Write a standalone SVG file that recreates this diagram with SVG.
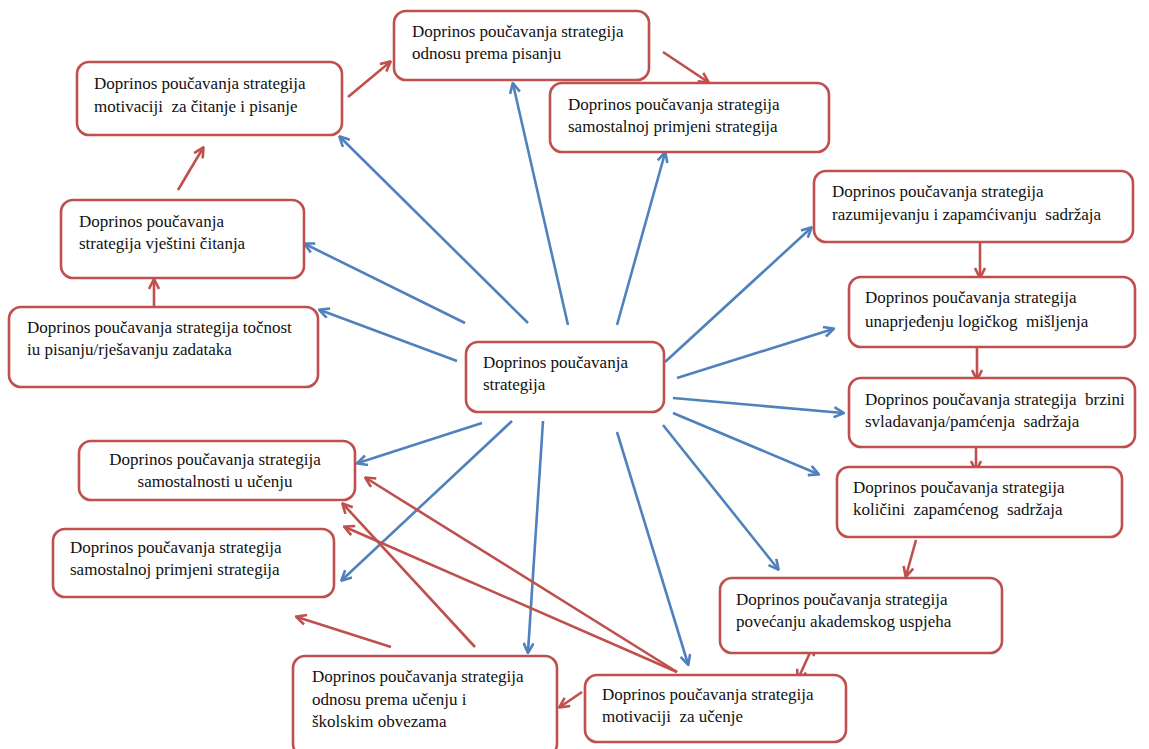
<svg xmlns="http://www.w3.org/2000/svg" width="1149" height="749" viewBox="0 0 1149 749">
<style>
.box{fill:#fff;stroke:#C0504D;stroke-width:2.6}
text{font-family:'Liberation Serif','Times New Roman',serif;font-size:17px;fill:#111}
.b{stroke:#4F81BD;stroke-width:2.6;fill:none;marker-end:url(#ab)}
.r{stroke:#C0504D;stroke-width:2.6;fill:none;marker-end:url(#ar)}
.rr{marker-start:url(#ar2)}
</style>
<defs>
<marker id="ab" viewBox="0 0 12 12" refX="10" refY="6" markerWidth="12" markerHeight="12" markerUnits="userSpaceOnUse" orient="auto"><path d="M1,1 L11,6 L1,11" fill="none" stroke="#4F81BD" stroke-width="2.6"/></marker>
<marker id="ar" viewBox="0 0 12 12" refX="10" refY="6" markerWidth="12" markerHeight="12" markerUnits="userSpaceOnUse" orient="auto"><path d="M1,1 L11,6 L1,11" fill="none" stroke="#C0504D" stroke-width="2.6"/></marker>
<marker id="ar2" viewBox="0 0 12 12" refX="2" refY="6" markerWidth="12" markerHeight="12" markerUnits="userSpaceOnUse" orient="auto"><path d="M11,1 L1,6 L11,11" fill="none" stroke="#C0504D" stroke-width="2.6"/></marker>
</defs>
<rect width="1149" height="749" fill="#fff"/>
<g id="connectors">
<line class="b" x1="528" y1="323" x2="340" y2="137"/>
<line class="b" x1="465" y1="323" x2="305" y2="244"/>
<line class="b" x1="457" y1="361" x2="320" y2="310"/>
<line class="b" x1="568" y1="325" x2="513" y2="84"/>
<line class="b" x1="617" y1="325" x2="665" y2="153"/>
<line class="b" x1="665" y1="362" x2="811" y2="228"/>
<line class="b" x1="677" y1="378" x2="833" y2="329"/>
<line class="b" x1="673" y1="398" x2="843" y2="413"/>
<line class="b" x1="673" y1="413" x2="818" y2="474"/>
<line class="b" x1="663" y1="425" x2="778" y2="569"/>
<line class="b" x1="617" y1="432" x2="688" y2="664"/>
<line class="b" x1="543" y1="421" x2="528" y2="652"/>
<line class="b" x1="512" y1="421" x2="342" y2="580"/>
<line class="b" x1="482" y1="423" x2="358" y2="463"/>
<line class="r" x1="154" y1="306" x2="154" y2="280"/>
<line class="r" x1="178" y1="190" x2="203" y2="148"/>
<line class="r" x1="348" y1="97" x2="390" y2="62"/>
<line class="r" x1="663" y1="52" x2="708" y2="82"/>
<line class="r" x1="980" y1="243" x2="980" y2="277"/>
<line class="r" x1="977" y1="348" x2="977" y2="379"/>
<line class="r" x1="976" y1="447" x2="976" y2="470"/>
<line class="r" x1="916" y1="540" x2="906" y2="576"/>
<line class="r rr" x1="813" y1="646" x2="798" y2="679"/>
<line class="r" x1="582" y1="692" x2="560" y2="707"/>
<line class="r" x1="677" y1="672" x2="366" y2="478"/>
<line class="r" x1="677" y1="672" x2="345" y2="527"/>
<line class="r" x1="475" y1="647" x2="343" y2="504"/>
<line class="r" x1="391" y1="647" x2="297" y2="617"/>
</g>
<g id="n1"><rect class="box" x="77" y="62" width="265" height="73" rx="12"/><text font-family="Liberation Serif, serif" x="94" y="89" xml:space="preserve">Doprinos poučavanja strategija<tspan x="94" dy="23">motivaciji  za čitanje i pisanje</tspan></text></g>
<g id="n2"><rect class="box" x="394" y="11" width="255" height="69" rx="12"/><text x="412" y="37">Doprinos poučavanja strategija<tspan x="412" dy="22">odnosu prema pisanju</tspan></text></g>
<g id="n3"><rect class="box" x="550" y="83" width="279" height="69" rx="12"/><text x="568" y="110">Doprinos poučavanja strategija<tspan x="568" dy="22">samostalnoj primjeni strategija</tspan></text></g>
<g id="n4"><rect class="box" x="61" y="200" width="243" height="78" rx="12"/><text x="79" y="227">Doprinos poučavanja<tspan x="79" dy="22">strategija vještini čitanja</tspan></text></g>
<g id="n5"><rect class="box" x="814" y="171" width="319" height="71" rx="12"/><text x="832" y="197" xml:space="preserve">Doprinos poučavanja strategija<tspan x="832" dy="23">razumijevanju i zapamćivanju  sadržaja</tspan></text></g>
<g id="n6"><rect class="box" x="9" y="307" width="309" height="80" rx="12"/><text x="27" y="333">Doprinos poučavanja strategija točnost<tspan x="27" dy="22">iu pisanju/rješavanju zadataka</tspan></text></g>
<g id="n7"><rect class="box" x="849" y="277" width="286" height="70" rx="12"/><text x="865" y="303" xml:space="preserve">Doprinos poučavanja strategija<tspan x="865" dy="24">unaprjeđenju logičkog  mišljenja</tspan></text></g>
<g id="n8"><rect class="box" x="466" y="342" width="198" height="70" rx="12"/><text x="483" y="368">Doprinos poučavanja<tspan x="483" dy="22">strategija</tspan></text></g>
<g id="n9"><rect class="box" x="849" y="378" width="286" height="69" rx="12"/><text x="865" y="405" xml:space="preserve">Doprinos poučavanja strategija  brzini<tspan x="865" dy="22">svladavanja/pamćenja  sadržaja</tspan></text></g>
<g id="n10"><rect class="box" x="79" y="441" width="276" height="59" rx="12"/><text x="215" y="465" text-anchor="middle">Doprinos poučavanja strategija<tspan x="215" dy="22">samostalnosti u učenju</tspan></text></g>
<g id="n11"><rect class="box" x="837" y="467" width="285" height="70" rx="12"/><text x="853" y="493" xml:space="preserve">Doprinos poučavanja strategija<tspan x="853" dy="22">količini  zapamćenog  sadržaja</tspan></text></g>
<g id="n12"><rect class="box" x="53" y="529" width="281" height="68" rx="12"/><text x="70" y="553">Doprinos poučavanja strategija<tspan x="70" dy="22">samostalnoj primjeni strategija</tspan></text></g>
<g id="n13"><rect class="box" x="720" y="578" width="282" height="75" rx="12"/><text x="736" y="605">Doprinos poučavanja strategija<tspan x="736" dy="22">povećanju akademskog uspjeha</tspan></text></g>
<g id="n14"><rect class="box" x="293" y="656" width="264" height="100" rx="12"/><text x="312" y="682">Doprinos poučavanja strategija<tspan x="312" dy="23">odnosu prema učenju i</tspan><tspan x="312" dy="22">školskim obvezama</tspan></text></g>
<g id="n15"><rect class="box" x="585" y="675" width="261" height="67" rx="12"/><text x="602" y="700" xml:space="preserve">Doprinos poučavanja strategija<tspan x="602" dy="22">motivaciji  za učenje</tspan></text></g>
</svg>
